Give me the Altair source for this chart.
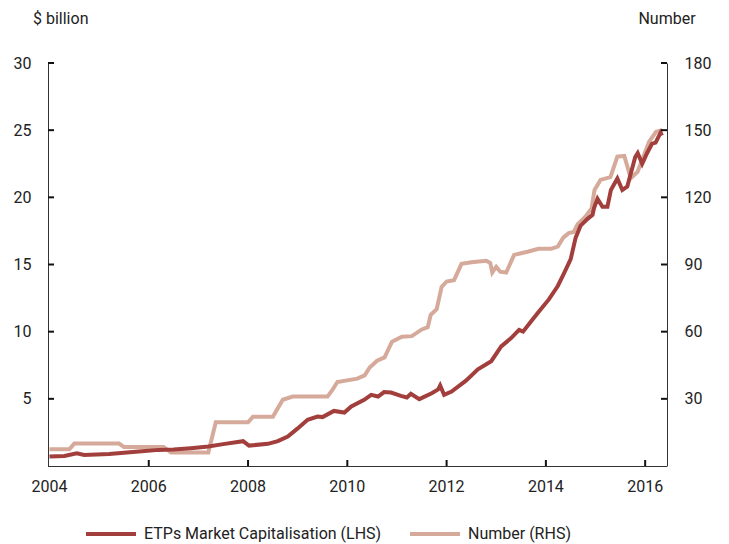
import altair as alt
import pandas as pd

# ETPs market capitalisation ($ billion, LHS)
etp_years = [2004.0, 2004.3, 2004.55, 2004.7, 2005.2, 2005.8, 2006.2, 2006.5, 2006.85, 2007.2,
             2007.5, 2007.9, 2008.02, 2008.4, 2008.6, 2008.8, 2009.0, 2009.2, 2009.4, 2009.5,
             2009.73, 2009.94, 2010.08, 2010.34, 2010.48, 2010.62, 2010.74, 2010.88, 2011.08, 2011.2,
             2011.28, 2011.45, 2011.7, 2011.83, 2011.87, 2011.95, 2012.1, 2012.39, 2012.63, 2012.9,
             2013.1, 2013.3, 2013.46, 2013.54, 2013.7, 2013.86, 2014.06, 2014.24, 2014.36, 2014.5,
             2014.6, 2014.7, 2014.84, 2014.94, 2014.97, 2015.04, 2015.14, 2015.24, 2015.31, 2015.44,
             2015.54, 2015.64, 2015.8, 2015.85, 2015.94, 2016.04, 2016.14, 2016.21, 2016.31, 2016.34]
etp_values = [0.7, 0.75, 0.95, 0.82, 0.9, 1.08, 1.2, 1.22, 1.33, 1.45,
              1.63, 1.85, 1.52, 1.65, 1.85, 2.2, 2.8, 3.44, 3.68, 3.64,
              4.1, 3.98, 4.43, 4.93, 5.3, 5.17, 5.5, 5.47, 5.22, 5.1,
              5.37, 4.98, 5.42, 5.7, 5.99, 5.3, 5.54, 6.35, 7.2, 7.8,
              8.9, 9.52, 10.13, 10.0, 10.75, 11.5, 12.4, 13.4, 14.3, 15.4,
              17.0, 17.9, 18.4, 18.7, 19.2, 19.9, 19.3, 19.3, 20.55, 21.4,
              20.55, 20.8, 23.0, 23.3, 22.5, 23.3, 24.0, 24.07, 24.8, 24.6]

# Number of ETPs (RHS)
num_years = [2004.0, 2004.4, 2004.5, 2005.4, 2005.5, 2006.3, 2006.45, 2007.2, 2007.35, 2008.0,
             2008.1, 2008.5, 2008.7, 2008.9, 2009.6, 2009.7, 2009.8, 2010.2, 2010.35, 2010.45,
             2010.6, 2010.75, 2010.9, 2011.1, 2011.3, 2011.5, 2011.62, 2011.68, 2011.8, 2011.9,
             2012.0, 2012.15, 2012.3, 2012.5, 2012.8, 2012.88, 2012.92, 2013.0, 2013.08, 2013.2,
             2013.36, 2013.5, 2013.65, 2013.85, 2014.1, 2014.24, 2014.35, 2014.46, 2014.56, 2014.64,
             2014.8, 2014.92, 2014.98, 2015.1, 2015.3, 2015.44, 2015.58, 2015.71, 2015.85, 2016.08,
             2016.22, 2016.35]
num_values = [7.5, 7.5, 10, 10, 8.5, 8.5, 6, 6, 19.5, 19.5,
              22, 22, 29.6, 31, 31, 34, 37.5, 39, 40.5, 44,
              47, 48.5, 55.5, 57.7, 58, 61, 62, 67.5, 70, 80,
              82.4, 83, 90.3, 91, 91.7, 90.7, 86.4, 89, 86.8, 86.4,
              94.3, 95, 95.8, 97, 97, 98, 102, 104, 104.5, 108,
              111.5, 115, 123.3, 127.8, 129, 138.2, 138.5, 128.5, 131.5, 144.9,
              149.3, 150]

lhs_ticks = [5, 10, 15, 20, 25, 30]
rhs_ticks = [30, 60, 90, 120, 150, 180]
x_ticks = [2004, 2006, 2008, 2010, 2012, 2014, 2016]
x_labels = ["2004", "2006", "2008", "2010", "2012", "2014", "2016"]
axis_titles = ["$ billion", "Number"]

series_names = ["ETPs Market Capitalisation (LHS)", "Number (RHS)"]
series_colors = ["#a23f3c", "#d6aa9b"]

etp_df = pd.DataFrame({"year": etp_years, "value": etp_values, "series": series_names[0]})
num_df = pd.DataFrame({"year": num_years, "value": num_values, "series": series_names[1]})
lt_df = pd.DataFrame({"v": lhs_ticks})
rt_df = pd.DataFrame({"v": rhs_ticks})
xt_df = pd.DataFrame({"yr": x_ticks, "lab": x_labels})

W, H = 619, 403
FONT = "Roboto"
xs = alt.Scale(domain=[2003.97, 2016.44], nice=False, zero=False)
yL = alt.Scale(domain=[0, 30], nice=False)
yR = alt.Scale(domain=[0, 180], nice=False)

color = alt.Color(
    "series:N",
    scale=alt.Scale(domain=series_names, range=series_colors),
    legend=alt.Legend(
        title=None, orient="none", direction="horizontal", legendX=36, legendY=444,
        symbolType="stroke", symbolSize=2500, symbolStrokeWidth=4,
        labelFont=FONT, labelFontSize=16, labelColor="#222", labelOffset=6,
        labelLimit=0, columnPadding=20, padding=0,
    ),
)

num_line = alt.Chart(num_df).mark_line(strokeWidth=4).encode(
    x=alt.X("year:Q", scale=xs, axis=None),
    y=alt.Y("value:Q", scale=yR, axis=alt.Axis(
        orient="right", values=rhs_ticks, ticks=False, labelPadding=17, grid=False,
        domainColor="#333", title=None)),
    color=color,
)
etp_line = alt.Chart(etp_df).mark_line(strokeWidth=4).encode(
    x=alt.X("year:Q", scale=xs, axis=None),
    y=alt.Y("value:Q", scale=yL, axis=alt.Axis(
        orient="left", values=lhs_ticks, ticks=False, labelPadding=17, grid=False,
        domainColor="#333", title=None)),
    color=color,
)

lticks = alt.Chart(lt_df).mark_rule(color="#111", strokeWidth=2).encode(
    y=alt.Y("v:Q", scale=yL, axis=None), x=alt.value(0), x2=alt.value(6))
rticks = alt.Chart(rt_df).mark_rule(color="#111", strokeWidth=2).encode(
    y=alt.Y("v:Q", scale=yR, axis=None), x=alt.value(W - 6), x2=alt.value(W))
xticks = alt.Chart(xt_df).transform_filter("datum.yr > 2004").mark_rule(
    color="#111", strokeWidth=2
).encode(x=alt.X("yr:Q", scale=xs, axis=None), y=alt.value(H - 6), y2=alt.value(H))
xlabels = alt.Chart(xt_df).mark_text(
    font=FONT, fontSize=16, color="#222", align="center", baseline="top"
).encode(x=alt.X("yr:Q", scale=xs, axis=None), y=alt.value(H + 13), text="lab:N")
xdomain = alt.Chart(xt_df).mark_rule(color="#333", strokeWidth=1).encode(
    x=alt.value(0), x2=alt.value(W), y=alt.value(H + 0.5))

ltitle = alt.Chart(pd.DataFrame({"t": [axis_titles[0]]})).mark_text(
    font=FONT, fontSize=16, color="#222", align="left", baseline="alphabetic"
).encode(text="t:N", x=alt.value(-15), y=alt.value(-39))
rtitle = alt.Chart(pd.DataFrame({"t": [axis_titles[1]]})).mark_text(
    font=FONT, fontSize=16, color="#222", align="center", baseline="alphabetic"
).encode(text="t:N", x=alt.value(W), y=alt.value(-39))

chart = alt.layer(num_line, etp_line, lticks, rticks, xticks, xlabels, xdomain,
                  ltitle, rtitle).resolve_scale(
    y="independent"
).properties(
    width=W, height=H, autosize="none",
    padding={"left": 40, "top": 55, "right": 54, "bottom": 78},
).configure_view(stroke=None).configure_axis(
    labelFont=FONT, labelFontSize=16, labelColor="#222",
)

chart.save("out.html", embed_options={"renderer": "svg", "actions": False})
